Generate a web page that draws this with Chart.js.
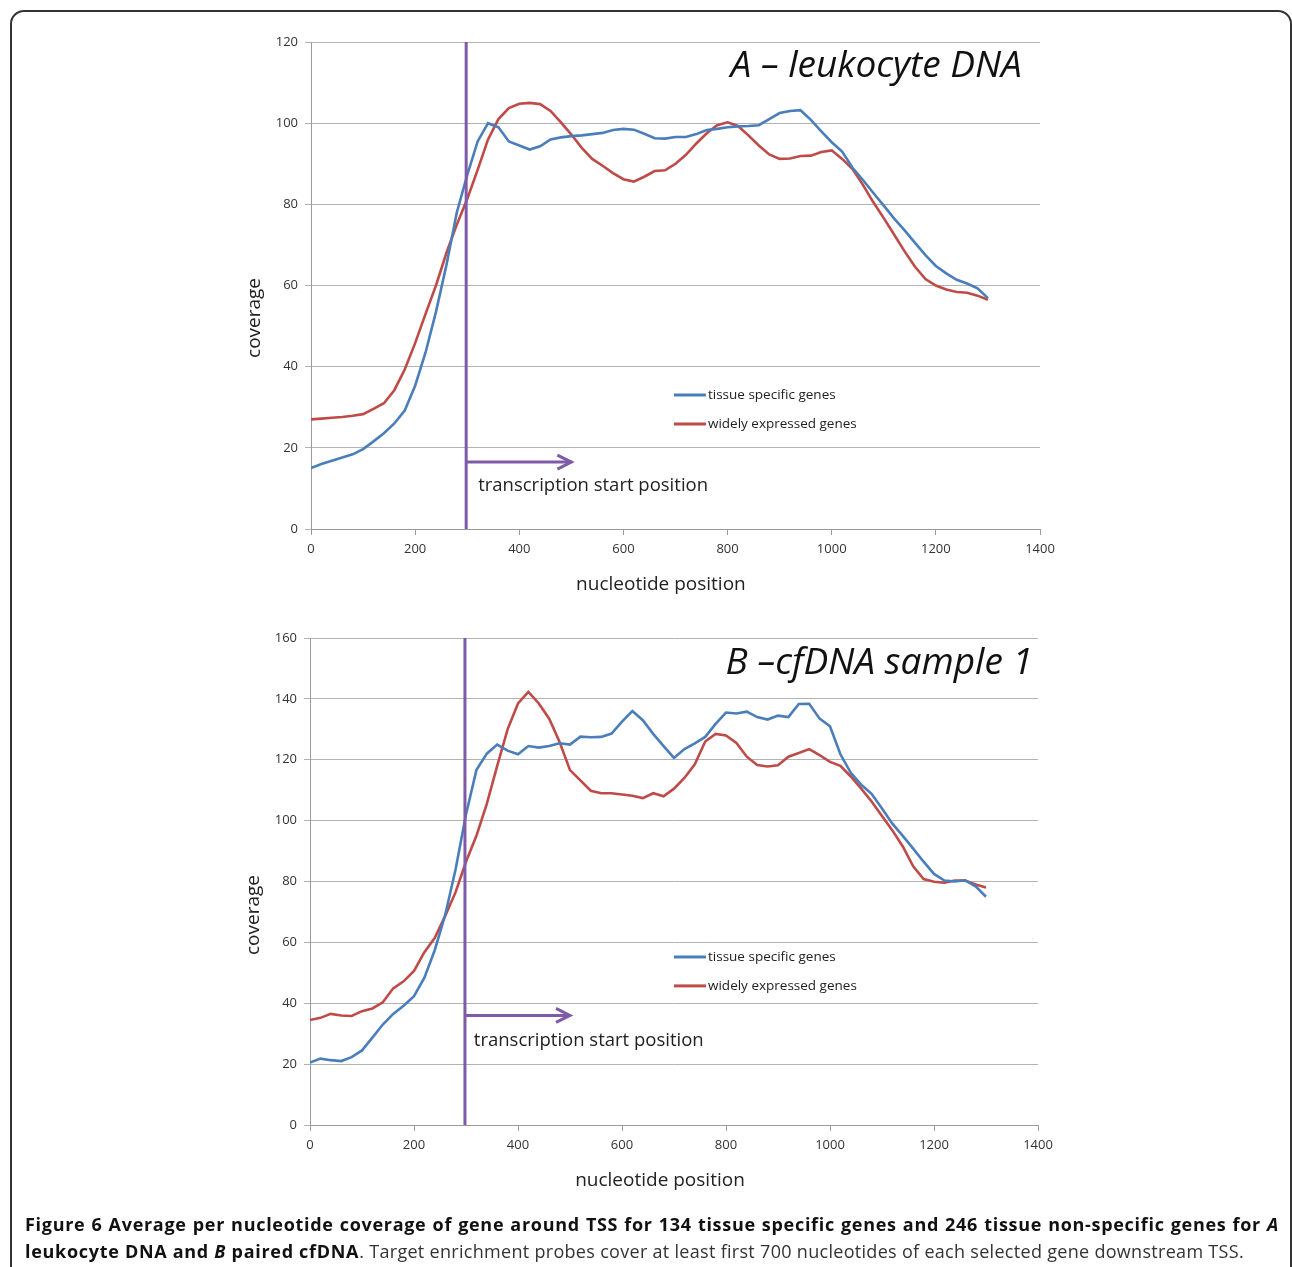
<!DOCTYPE html>
<html>
<head>
<meta charset="utf-8">
<script src="https://cdn.jsdelivr.net/npm/chart.js@4.4.0/dist/chart.umd.min.js"></script>
<style>
  body { margin: 0; background: #fff; width: 1292px; height: 1267px; overflow: hidden; position: relative; font-family: 'Open Sans', sans-serif; }
  #frame { position: absolute; left: 10px; top: 10px; width: 1278px; height: 1320px; border: 2px solid #333; border-radius: 14px; }
  canvas { position: absolute; left: 0; }
  #cvA { top: 0; }
  #cvB { top: 600px; }
  .cap { position: absolute; left: 25px; width: 1254px; font-size: 18px; color: #111; line-height: 24px; }
  #cap1 { top: 1212px; font-weight: 700; letter-spacing: 0.7px; text-align: justify; text-align-last: justify; }
  #cap2 { top: 1239px; }
  #cap2 b { font-weight: 700; letter-spacing: 0.7px; }
  #cap2 span { color: #333; letter-spacing: 0.3px; }
</style>
</head>
<body>
<div id="frame"></div>
<canvas id="cvA" width="1292" height="610"></canvas>
<canvas id="cvB" width="1292" height="610"></canvas>
<div class="cap" id="cap1">Figure 6 Average per nucleotide coverage of gene around TSS for 134 tissue specific genes and 246 tissue non-specific genes for <i>A</i></div>
<div class="cap" id="cap2"><b>leukocyte DNA and <i>B</i> paired cfDNA</b><span>. Target enrichment probes cover at least first 700 nucleotides of each selected gene downstream TSS.</span></div>

<script>
// --- Data (nucleotide position, every 20 nt) ---
const positions = [0, 20, 40, 60, 80, 100, 120, 140, 160, 180, 200, 220, 240, 260, 280, 300, 320, 340, 360, 380,
  400, 420, 440, 460, 480, 500, 520, 540, 560, 580, 600, 620, 640, 660, 680, 700, 720, 740, 760, 780,
  800, 820, 840, 860, 880, 900, 920, 940, 960, 980, 1000, 1020, 1040, 1060, 1080, 1100, 1120, 1140, 1160, 1180,
  1200, 1220, 1240, 1260, 1280, 1300];

// A - leukocyte DNA
const leukoTissue = [15, 16, 16.8, 17.6, 18.4, 19.7, 21.6, 23.6, 26, 29.2, 35.3, 43.5, 53.5, 65, 78, 87.2, 95.5, 100, 99, 95.5,
  94.5, 93.5, 94.3, 96, 96.5, 96.8, 97, 97.3, 97.6, 98.3, 98.6, 98.4, 97.4, 96.3, 96.2, 96.6, 96.6, 97.3, 98.3, 98.6,
  99, 99.2, 99.3, 99.5, 101, 102.5, 103, 103.2, 100.8, 98, 95.3, 93, 89, 86, 82.8, 79.7, 76.5, 73.6, 70.5, 67.5,
  64.8, 63, 61.4, 60.5, 59.3, 56.9];
const leukoWide = [27, 27.2, 27.4, 27.6, 27.9, 28.3, 29.6, 31, 34.2, 39.3, 45.8, 53, 60, 68, 75, 81.3, 88.5, 96, 101, 103.7,
  104.8, 105, 104.7, 103, 100.2, 97.2, 93.9, 91.2, 89.5, 87.7, 86.2, 85.6, 86.8, 88.2, 88.4, 90, 92.2, 95, 97.5, 99.5,
  100.2, 99.3, 97, 94.5, 92.3, 91.2, 91.3, 91.9, 92, 92.9, 93.3, 91.2, 88.7, 84.8, 80.5, 76.6, 72.5, 68.4, 64.6, 61.6,
  60, 59, 58.4, 58.2, 57.5, 56.5];

// B - cfDNA sample 1
const cfTissue = [20.5, 21.8, 21.3, 21, 22.3, 24.5, 28.7, 33, 36.5, 39.2, 42.3, 48.4, 57.5, 69, 84, 102, 116.6, 122, 125, 123,
  121.8, 124.5, 124, 124.5, 125.4, 125, 127.6, 127.4, 127.5, 128.6, 132.5, 136, 133, 128.5, 124.5, 120.6, 123.5, 125.4, 127.5, 131.8,
  135.5, 135.2, 135.8, 134, 133.2, 134.5, 134, 138.3, 138.4, 133.5, 131, 121.8, 115.7, 111.8, 108.8, 104, 99, 95, 90.8, 86.5,
  82.5, 80.3, 80, 80.4, 78.4, 75];
const cfWide = [34.5, 35.2, 36.5, 36, 35.8, 37.4, 38.3, 40.3, 44.9, 47.2, 50.6, 56.8, 61.5, 68.7, 76.5, 86.5, 95, 105.5, 118, 130,
  138.5, 142.3, 138.5, 133.5, 125.8, 116.6, 113.2, 109.8, 109, 109, 108.6, 108.2, 107.4, 109, 108, 110.5, 114, 118.5, 126, 128.5,
  128, 125.5, 121, 118.3, 117.8, 118.2, 121, 122.2, 123.5, 121.5, 119.3, 118, 114.5, 110.5, 106.3, 101.5, 96.8, 91.5, 85, 80.8,
  79.9, 79.6, 80.3, 80.3, 79, 78];

const xTicks = [0, 1400, 200];          // min, max, step
const yTicksA = [0, 120, 20];
const yTicksB = [0, 160, 20];
const seriesNames = ['tissue specific genes', 'widely expressed genes'];
const tssPos = 298;
const arrowEnd = 500;

const BLUE = '#4a7ebb';
const RED = '#be4b48';
const PURPLE = '#7f5aa8';
const FONT = "'Open Sans', sans-serif";

const toXY = (vals) => vals.map((v, i) => ({ x: positions[i], y: v }));

// draws panel title, arrowhead, annotation, legend and axis titles
function decor(o) {
  return {
    id: 'decor',
    afterDatasetsDraw(chart) {
      const { ctx, chartArea } = chart;
      const xs = chart.scales.x, ys = chart.scales.y;
      ctx.save();
      ctx.fillStyle = '#111';

      // arrowhead
      const ax = xs.getPixelForValue(arrowEnd), ay = ys.getPixelForValue(o.arrowY);
      ctx.strokeStyle = PURPLE;
      ctx.lineWidth = 3;
      ctx.beginPath();
      ctx.moveTo(ax - 14, ay - 7);
      ctx.lineTo(ax, ay);
      ctx.lineTo(ax - 14, ay + 7);
      ctx.stroke();

      // panel title
      ctx.font = 'italic 37px ' + FONT;
      ctx.textAlign = 'right';
      ctx.textBaseline = 'middle';
      ctx.fillText(o.title, xs.getPixelForValue(o.titleX), ys.getPixelForValue(o.titleY));

      // annotation
      ctx.font = '18.5px ' + FONT;
      ctx.textAlign = 'left';
      ctx.fillStyle = '#222';
      ctx.fillText('transcription start position', xs.getPixelForValue(o.noteX), ys.getPixelForValue(o.noteY));

      // legend
      ctx.font = '13.5px ' + FONT;
      const lx = xs.getPixelForValue(o.legX);
      [BLUE, RED].forEach((c, i) => {
        const ly = ys.getPixelForValue(o.legY[i]);
        ctx.strokeStyle = c;
        ctx.lineWidth = 3;
        ctx.beginPath();
        ctx.moveTo(lx, ly);
        ctx.lineTo(lx + 32, ly);
        ctx.stroke();
        ctx.fillText(seriesNames[i], lx + 34, ly);
      });

      // axis titles
      ctx.font = '19px ' + FONT;
      ctx.textAlign = 'center';
      ctx.fillText('nucleotide position', xs.getPixelForValue(o.xTitleX), chartArea.bottom + 56);
      ctx.translate(chartArea.left - 56, ys.getPixelForValue(o.yTitleY));
      ctx.rotate(-Math.PI / 2);
      ctx.fillText('coverage', 0, 0);
      ctx.restore();
    }
  };
}

function buildChart(id, o) {
  const [yMin, yMax, yStep] = o.yTicks;
  return new Chart(document.getElementById(id), {
    type: 'line',
    data: {
      datasets: [
        { data: [{ x: tssPos, y: yMin }, { x: tssPos, y: yMax }], borderColor: PURPLE, borderWidth: 3, pointRadius: 0 },
        { data: [{ x: tssPos, y: o.arrowY }, { x: arrowEnd, y: o.arrowY }], borderColor: PURPLE, borderWidth: 3, pointRadius: 0 },
        { label: seriesNames[0], data: toXY(o.blue), borderColor: BLUE, borderWidth: 2.6, pointRadius: 0 },
        { label: seriesNames[1], data: toXY(o.red), borderColor: RED, borderWidth: 2.6, pointRadius: 0 }
      ]
    },
    options: {
      responsive: false,
      animation: false,
      layout: { padding: { left: 240, top: o.top, right: o.right, bottom: 0 } },
      plugins: { legend: { display: false }, tooltip: { enabled: false } },
      scales: {
        x: {
          type: 'linear', min: xTicks[0], max: xTicks[1],
          ticks: { stepSize: xTicks[2], padding: 6, color: '#333', font: { family: FONT, size: 13 },
                   callback: (v) => String(v) },
          grid: { drawOnChartArea: false, tickLength: 6, color: '#9a9a9a' },
          border: { color: '#9a9a9a' },
          afterFit: (s) => { s.height = o.xh; }
        },
        y: {
          type: 'linear', min: yMin, max: yMax,
          ticks: { stepSize: yStep, padding: 7, color: '#333', font: { family: FONT, size: 13 } },
          grid: { tickLength: 6, color: '#b3b3b3' },
          border: { color: '#9a9a9a' },
          afterFit: (s) => { s.width = o.yw; }
        }
      }
    },
    plugins: [decor(o)]
  });
}

buildChart('cvA', {
  blue: leukoTissue, red: leukoWide, yTicks: yTicksA,
  top: 42, right: 252, xh: 81, yw: 71,
  arrowY: 16.5, title: 'A \u2013 leukocyte DNA', titleX: 1365, titleY: 114,
  noteX: 321, noteY: 10.6, legX: 697, legY: [33, 25.9], xTitleX: 672, yTitleY: 52
});

buildChart('cvB', {
  blue: cfTissue, red: cfWide, yTicks: yTicksB,
  top: 38, right: 254, xh: 85, yw: 70,
  arrowY: 36, title: 'B \u2013cfDNA sample 1', titleX: 1390, titleY: 151.8,
  noteX: 315, noteY: 27.6, legX: 700, legY: [55.2, 45.7], xTitleX: 673, yTitleY: 69
});
</script>
</body>
</html>
